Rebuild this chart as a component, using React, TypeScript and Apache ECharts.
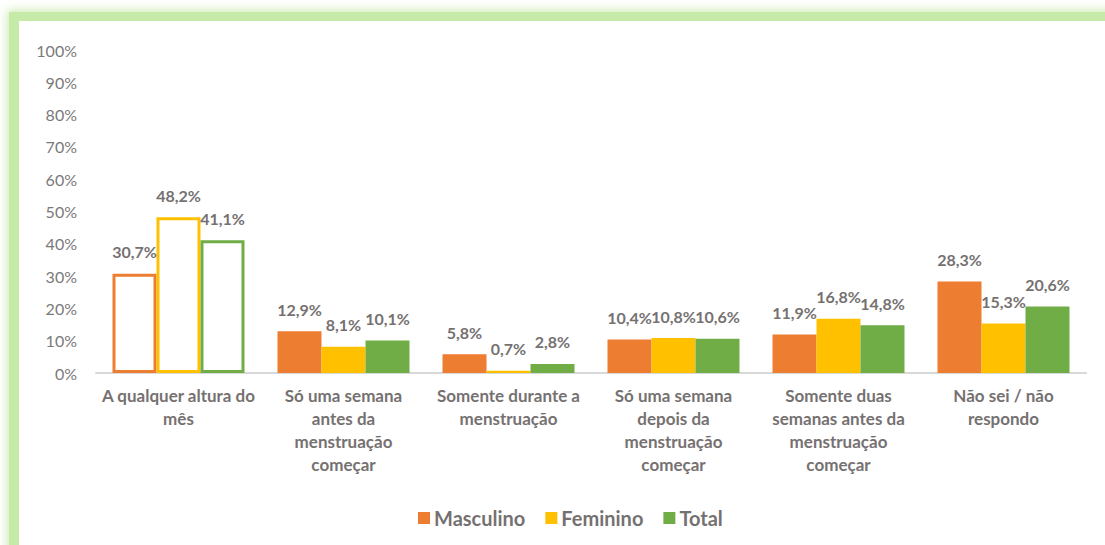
import React, { useEffect, useRef } from "react";
import * as echarts from "echarts";

const categories = [
  "A qualquer altura do\nmês",
  "Só uma semana\nantes da\nmenstruação\ncomeçar",
  "Somente durante a\nmenstruação",
  "Só uma semana\ndepois da\nmenstruação\ncomeçar",
  "Somente duas\nsemanas antes da\nmenstruação\ncomeçar",
  "Não sei / não\nrespondo",
];
const masculino = [30.7, 12.9, 5.8, 10.4, 11.9, 28.3];
const feminino = [48.2, 8.1, 0.7, 10.8, 16.8, 15.3];
const total = [41.1, 10.1, 2.8, 10.6, 14.8, 20.6];
const seriesNames = ["Masculino", "Feminino", "Total"];
const colors = ["#ed7d31", "#ffc000", "#70ad47"];
const hollowIndex = 0;

const FONT = "Lato, 'Open Sans', sans-serif";
const GRAY = "#767171";

export default function App() {
  const ref = useRef<HTMLDivElement>(null);
  useEffect(() => {
    if (!ref.current) return;
    const chart = echarts.init(ref.current, undefined, { renderer: "svg" });
    const mk = (name: string, vals: number[], color: string) => ({
      name,
      type: "bar",
      barGap: "0%",
      barCategoryGap: "20%",
      itemStyle: { color },
      data: vals.map((v, i) =>
        i === hollowIndex
          ? { value: v, itemStyle: { color: "#ffffff", borderColor: color, borderWidth: 3 } }
          : v
      ),
      label: {
        show: true,
        position: "top",
        distance: 13,
        color: GRAY,
        fontFamily: FONT,
        fontWeight: "bold",
        fontSize: 16,
        lineHeight: 18,
        formatter: (p: any) => p.value.toFixed(1).replace(".", ",") + "%",
      },
    });
    chart.setOption({
      animation: false,
      textStyle: { fontFamily: FONT },
      grid: { left: 96, right: 19, top: 50, bottom: 172, containLabel: false },
      legend: {
        data: seriesNames.map((n) => ({ name: n, icon: "rect" })),
        left: 413,
        top: 503,
        itemWidth: 12,
        itemHeight: 12,
        itemGap: 20,
        textStyle: { color: GRAY, fontSize: 20, fontWeight: "bold", fontFamily: FONT, padding: [0, 0, 0, -1] },
      },
      xAxis: {
        type: "category",
        data: categories,
        axisLine: { show: true, lineStyle: { color: "#d9d9d9", width: 2 } },
        axisTick: { show: false },
        axisLabel: {
          interval: 0,
          margin: 11,
          color: GRAY,
          fontFamily: FONT,
          fontWeight: "bold",
          fontSize: 17,
          lineHeight: 23,
        },
      },
      yAxis: {
        type: "value",
        min: 0,
        max: 100,
        interval: 10,
        splitLine: { show: false },
        axisLine: { show: false },
        axisTick: { show: false },
        axisLabel: {
          formatter: "{value}%",
          margin: 19,
          color: "#7a7a7a",
          fontFamily: FONT,
          fontSize: 16,
        },
      },
      series: [
        mk(seriesNames[0], masculino, colors[0]),
        mk(seriesNames[1], feminino, colors[1]),
        mk(seriesNames[2], total, colors[2]),
      ],
    });
    return () => chart.dispose();
  }, []);
  return (
    <div style={{ position: "fixed", left: 0, top: 0, width: 1105, height: 545, background: "#fff", overflow: "hidden" }}>
      <div
        style={{
          position: "absolute",
          left: 9,
          top: 12,
          width: 1300,
          height: 800,
          borderLeft: "10px solid #c6eba8",
          borderTop: "9px solid #c6eba8",
          boxShadow: "0 0 9px 2px rgba(198,235,168,0.85)",
          boxSizing: "border-box",
        }}
      />
      <div ref={ref} style={{ position: "absolute", left: 0, top: 0, width: 1105, height: 545 }} />
    </div>
  );
}
